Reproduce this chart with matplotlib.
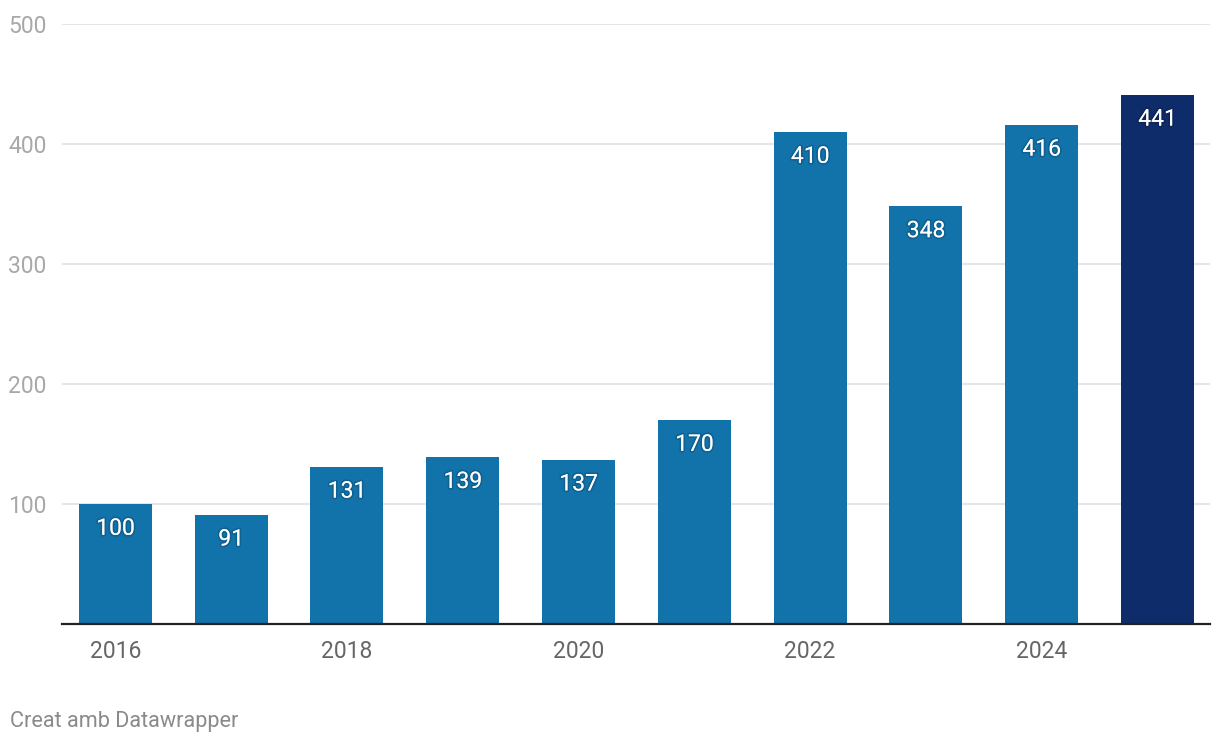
import matplotlib
matplotlib.use("Agg")
import matplotlib.pyplot as plt
import matplotlib.patheffects as pe

plt.rcParams['font.family'] = ['Roboto', 'DejaVu Sans']

years = [2016, 2017, 2018, 2019, 2020, 2021, 2022, 2023, 2024, 2025]
values = [100, 91, 131, 139, 137, 170, 410, 348, 416, 441]
tick_years = [2016, 2018, 2020, 2022, 2024]
y_ticks = [100, 200, 300, 400, 500]

fig = plt.figure(figsize=(12.2, 7.46), dpi=100)
ax = fig.add_axes([62 / 1220, 122 / 746, 1148 / 1220, 600 / 746])

x = list(range(len(years)))
colors = ['#1272aa'] * (len(years) - 1) + ['#0e2c6a']
ax.bar(x, values, width=0.63, color=colors, zorder=2)

# labels inside bars
for xi, v in zip(x, values):
    ax.annotate(str(v), (xi, v), xytext=(0, -17.5), textcoords='offset points',
                ha='center', va='center', color='white', fontsize=16.5, zorder=3,
                path_effects=[pe.withStroke(linewidth=2.5, foreground=(0, 0, 0, 0.14))])

ax.set_xlim(-0.461, 9.453)
ax.set_ylim(0, 500)
ax.set_yticks(y_ticks)
ax.set_yticklabels([str(t) for t in y_ticks])
ax.set_xticks([years.index(t) for t in tick_years])
ax.set_xticklabels([str(t) for t in tick_years])

ax.grid(axis='y', color='#e3e3e3', linewidth=1.3, zorder=0)
ax.tick_params(axis='y', length=0, pad=11, labelsize=16.5, labelcolor='#a8a8a8')
ax.tick_params(axis='x', length=0, pad=11.5, labelsize=16.5, labelcolor='#666666')
for s in ['top', 'right', 'left']:
    ax.spines[s].set_visible(False)
ax.spines['bottom'].set_color('#222222')
ax.spines['bottom'].set_linewidth(1.6)
ax.spines['bottom'].set_zorder(4)

fig.text(10 / 1220, 1 - 722 / 746, 'Creat amb Datawrapper', ha='left', va='center',
         fontsize=15.6, color='#8a8a8a')

fig.savefig('out.png', dpi=100)
